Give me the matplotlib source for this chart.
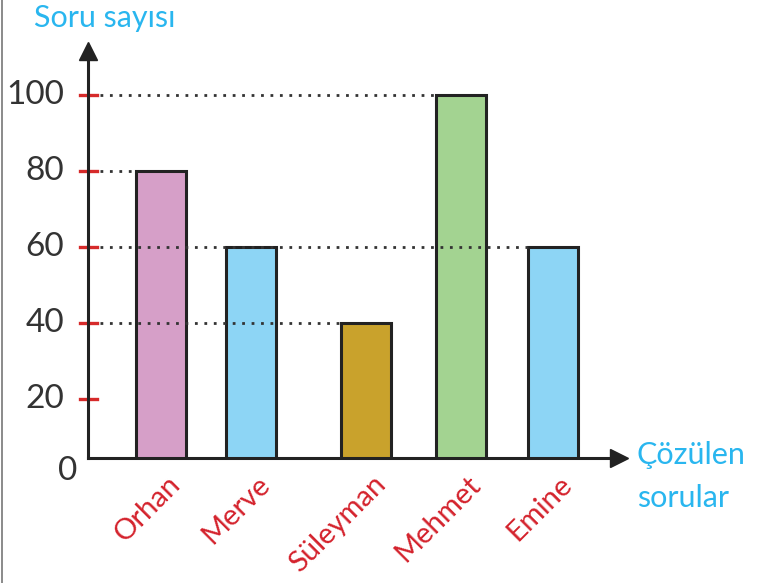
import matplotlib.pyplot as plt
from matplotlib.lines import Line2D

names = ['Orhan', 'Merve', 'Süleyman', 'Mehmet', 'Emine']
counts = [80, 60, 40, 100, 60]
colors = ['#d69fc8', '#8dd5f5', '#c9a22c', '#a3d391', '#8dd5f5']
yticks = [20, 40, 60, 80, 100]

# bar centres along the horizontal axis (uneven spacing)
xpos = [161, 251, 366, 461, 553]

W, H = 771, 583
fig = plt.figure(figsize=(W / 100, H / 100), dpi=100)
ax = fig.add_axes([88 / W, (H - 458) / H, (625 - 88) / W, (458 - 40) / H])
ax.set_xlim(88, 625)
ax.set_ylim(4.47, 114.5)
for s in ax.spines.values():
    s.set_visible(False)
ax.set_xticks([])
ax.set_yticks([])

ax.bar(xpos, counts, width=50, color=colors, edgecolor='#222222', linewidth=2.2, zorder=2)

# dotted guide lines from the axis to the first bar reaching each value
for v in yticks:
    hits = [x for x, c in zip(xpos, counts) if c == v]
    if not hits:
        continue
    end = max(hits) - 25
    ax.plot([100, end], [v, v], color='#333333', lw=2,
            linestyle=(0, (1, 2.4)), zorder=3)

txt = '#333333'
for v in yticks:
    ax.plot([80, 97], [v, v], color='#d62a2a', lw=2.4, clip_on=False, zorder=4)
    ax.text(64, v, str(v), ha='right', va='center', fontsize=24,
            fontfamily='Lato', color=txt)
ax.text(68, 1, '0', ha='center', va='center', fontsize=24,
        fontfamily='Lato', color=txt, clip_on=False)

# axes with arrow heads
ax.plot([88, 88], [4.47, 111], color='#222222', lw=2.2, clip_on=False, zorder=5)
ax.plot([88], [111.5], marker='^', markersize=13, color='#222222', clip_on=False, zorder=5)
ax.plot([88, 617], [4.47, 4.47], color='#222222', lw=2.2, clip_on=False, zorder=5)
ax.plot([619], [4.47], marker='>', markersize=13, color='#222222', clip_on=False, zorder=5)

for x, n in zip(xpos, names):
    ax.text(x + 6, 1.0, n, rotation=45, rotation_mode='anchor', ha='right', va='top',
            fontsize=21, color='#d4222c', fontfamily='Lato', clip_on=False)

blue = '#29b6ef'
fig.text(34 / W, 1 - 18 / H, 'Soru sayısı', ha='left', va='center', fontsize=22,
         color=blue, fontfamily='Lato')
fig.text(637 / W, 1 - 455 / H, 'Çözülen', ha='left', va='center', fontsize=22,
         color=blue, fontfamily='Lato')
fig.text(637 / W, 1 - 498 / H, 'sorular', ha='left', va='center', fontsize=22,
         color=blue, fontfamily='Lato')

fig.add_artist(Line2D([2 / W, 2 / W], [0, 1], color='#777777', lw=1.2))

fig.savefig('out.png', dpi=100)
